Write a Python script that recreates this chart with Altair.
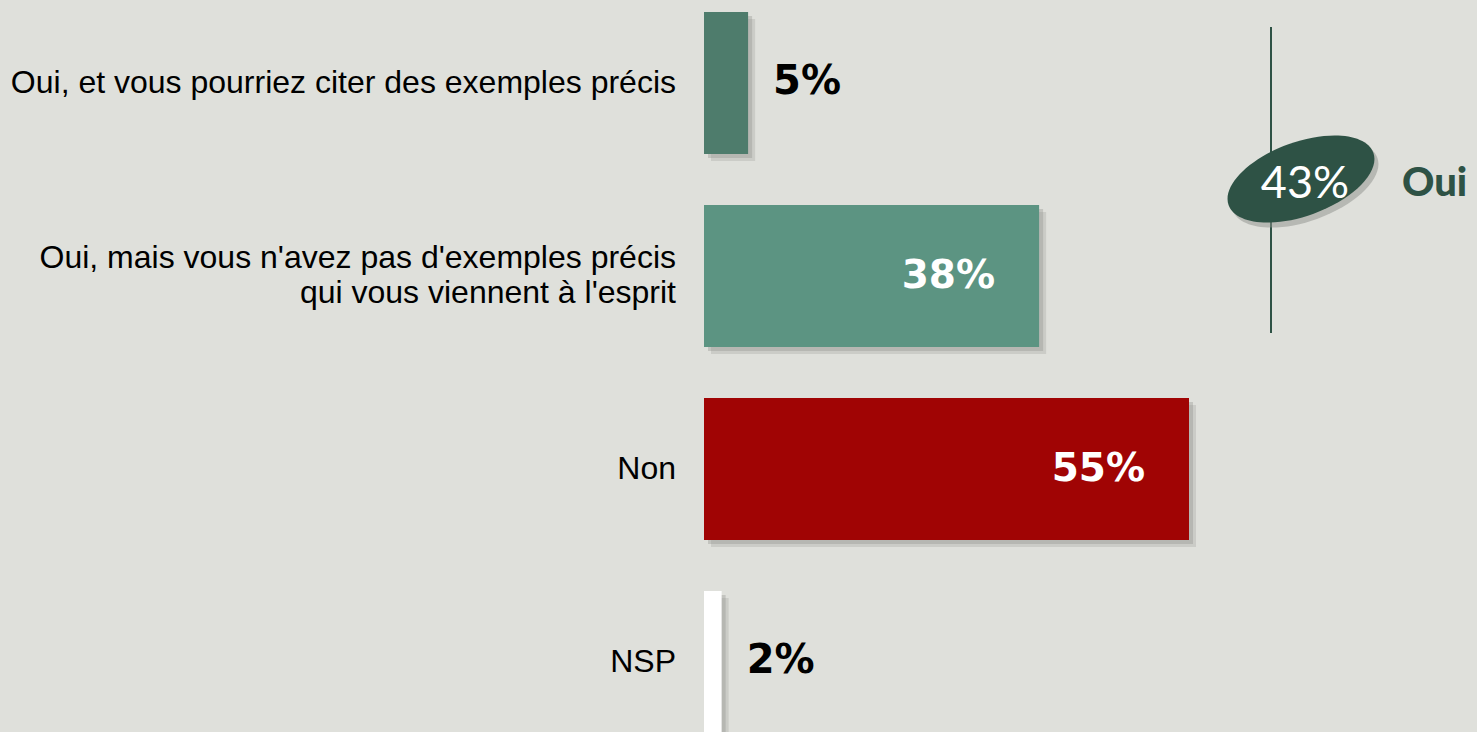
import altair as alt
import pandas as pd

categories = [
    "Oui, et vous pourriez citer des exemples précis",
    "Oui, mais vous n'avez pas d'exemples précis|qui vous viennent à l'esprit",
    "Non",
    "NSP",
]
values = [5, 38, 55, 2]
bar_colors = ["#4E7C6C", "#5C9482", "#A00404", "#FFFFFF"]
oui_total = values[0] + values[1]

df = pd.DataFrame({"cat": categories, "value": values})
df["label"] = df["value"].astype(str) + "%"

x_scale = alt.Scale(domain=[0, 87.66], nice=False, zero=True)
y_scale = alt.Scale(domain=categories, paddingInner=0.264, paddingOuter=0.062)

base = alt.Chart(df)
X = alt.X("value:Q", scale=x_scale, axis=None)
Y = alt.Y("cat:N", scale=y_scale, axis=None, sort=categories)

shadow1 = base.mark_bar(color="#8E908B", opacity=0.35, xOffset=4, yOffset=4).encode(x=X, y=Y)
shadow2 = base.mark_bar(color="#8E908B", opacity=0.25, xOffset=7, yOffset=7).encode(x=X, y=Y)
bars = base.mark_bar(opacity=1).encode(
    x=X, y=Y,
    color=alt.Color("cat:N", scale=alt.Scale(domain=categories, range=bar_colors), legend=None),
)

inside = base.transform_filter(alt.datum.value > 20).mark_text(
    align="right", baseline="middle", dx=-44, font="DejaVu Sans", fontWeight="bold",
    fontSize=39, color="white"
).encode(x=X, y=Y, text="label:N")

outside = base.transform_filter(alt.datum.value <= 20).mark_text(
    align="left", baseline="middle", dx=25, dy=-1, font="DejaVu Sans", fontWeight="bold",
    fontSize=40, color="black"
).encode(x=X, y=Y, text="label:N")

single_labels = base.transform_filter("indexof(datum.cat, '|') < 0").mark_text(
    align="right", baseline="middle",
    font="Liberation Sans", fontSize=32, color="black"
).encode(x=alt.value(-28), y=Y, text="cat:N")

multi_labels = base.transform_filter("indexof(datum.cat, '|') >= 0").mark_text(
    align="right", baseline="middle", lineBreak="|", lineHeight=35, dy=-18,
    font="Liberation Sans", fontSize=32, color="black"
).encode(x=alt.value(-28), y=Y, text="cat:N")

ann = alt.Chart(pd.DataFrame({"t": [f"{oui_total}%"], "o": ["Oui"]}))

rule = ann.mark_rule(color="#2E5245", strokeWidth=2).encode(
    x=alt.value(567), y=alt.value(27), y2=alt.value(333)
)
ellipse_path = "M -1 0 A 1 0.48 0 1 1 1 0 A 1 0.48 0 1 1 -1 0 Z"
ell_shadow = ann.mark_point(
    shape=ellipse_path, filled=True, size=23716, angle=340,
    color="#8E908B", opacity=0.5, strokeWidth=0
).encode(x=alt.value(601), y=alt.value(184))
ellipse = ann.mark_point(
    shape=ellipse_path, filled=True, size=23716, angle=340,
    color="#2E5245", opacity=1, strokeWidth=0
).encode(x=alt.value(597), y=alt.value(179))
pct_text = ann.mark_text(
    align="center", baseline="middle", font="Lato", fontSize=45, color="white"
).encode(x=alt.value(601), y=alt.value(184), text="t:N")
oui_text = ann.mark_text(
    align="left", baseline="middle", font="Lato", fontWeight=900, fontSize=40, color="#2E5245"
).encode(x=alt.value(698), y=alt.value(184), text="o:N")

chart = alt.layer(
    shadow2, shadow1, bars, inside, outside, single_labels, multi_labels,
    rule, ell_shadow, ellipse, pct_text, oui_text
).properties(
    width=773, height=745,
    background="#DFE0DB",
    padding={"left": 704, "top": 0, "right": 0, "bottom": 0},
    autosize=alt.AutoSizeParams(type="none"),
).configure_view(stroke=None)

chart.save("out.html", embed_options={"renderer": "svg", "actions": False})
